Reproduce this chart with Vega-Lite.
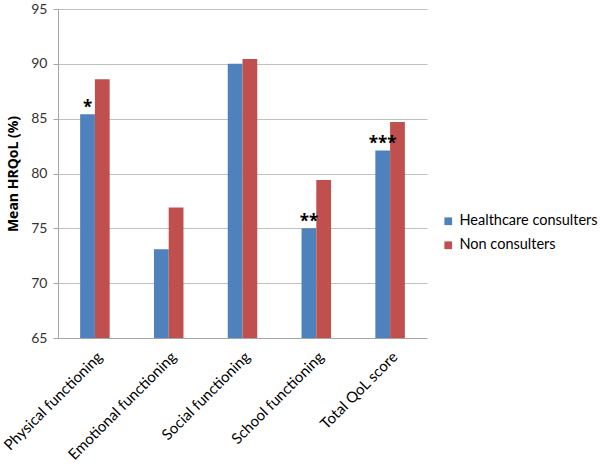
{
  "$schema": "https://vega.github.io/schema/vega-lite/v6.json",
  "autosize": {"type": "none"},
  "padding": {"left": 58, "top": 9, "right": 173, "bottom": 130},
  "width": 369,
  "height": 329,
  "background": "white",
  "config": {
    "view": {"stroke": null},
    "font": "Lato"
  },
  "data": {
    "values": [
      {"domain": "Physical functioning", "group": "Healthcare consulters", "value": 85.4, "sig": "*"},
      {"domain": "Physical functioning", "group": "Non consulters", "value": 88.6, "sig": ""},
      {"domain": "Emotional functioning", "group": "Healthcare consulters", "value": 73.1, "sig": ""},
      {"domain": "Emotional functioning", "group": "Non consulters", "value": 76.9, "sig": ""},
      {"domain": "Social functioning", "group": "Healthcare consulters", "value": 90.0, "sig": ""},
      {"domain": "Social functioning", "group": "Non consulters", "value": 90.45, "sig": ""},
      {"domain": "School functioning", "group": "Healthcare consulters", "value": 75.0, "sig": "**"},
      {"domain": "School functioning", "group": "Non consulters", "value": 79.4, "sig": ""},
      {"domain": "Total QoL score", "group": "Healthcare consulters", "value": 82.1, "sig": "***"},
      {"domain": "Total QoL score", "group": "Non consulters", "value": 84.7, "sig": ""}
    ]
  },
  "encoding": {
    "x": {
      "field": "domain",
      "type": "nominal",
      "sort": null,
      "scale": {"paddingInner": 0.6, "paddingOuter": 0.3},
      "axis": {
        "title": null,
        "labelAngle": -45,
        "labelFontSize": 15,
        "labelColor": "#000000",
        "ticks": false,
        "domainColor": "#a6a6a6",
        "labelPadding": 11,
        "labelLimit": 300
      }
    },
    "xOffset": {"field": "group", "type": "nominal", "sort": ["Healthcare consulters", "Non consulters"], "scale": {"paddingInner": 0, "paddingOuter": 0}},
    "y": {
      "field": "value",
      "type": "quantitative",
      "scale": {"domain": [65, 95], "zero": false, "nice": false},
      "axis": {
        "title": "Mean HRQoL (%)",
        "titleFont": "Open Sans",
        "titleFontSize": 14,
        "titleFontWeight": "bold",
        "titleColor": "#000000",
        "titlePadding": 10,
        "values": [65, 70, 75, 80, 85, 90, 95],
        "labelFontSize": 14,
        "labelColor": "#333333",
        "tickColor": "#a6a6a6",
        "tickSize": 5,
        "domainColor": "#a6a6a6",
        "gridColor": "#c0c0c0",
        "gridWidth": 1.2,
        "labelPadding": 6
      }
    }
  },
  "layer": [
    {
      "mark": {"type": "bar", "opacity": 1, "clip": true},
      "encoding": {
        "color": {
          "field": "group",
          "type": "nominal",
          "sort": ["Healthcare consulters", "Non consulters"],
          "scale": {"range": ["#4F81BD", "#C0504D"]},
          "legend": {
            "title": null,
            "orient": "none",
            "legendX": 383,
            "legendY": 205,
            "padding": 0,
            "symbolType": "square",
            "symbolSize": 60,
            "symbolStrokeWidth": 0,
            "labelFontSize": 14.5,
            "labelColor": "#000000",
            "rowPadding": 9,
            "labelOffset": 4,
            "labelLimit": 300
          }
        }
      }
    },
    {
      "mark": {"type": "text", "dy": -6, "font": "Open Sans", "fontSize": 17, "fontWeight": "bold", "color": "#000000", "baseline": "middle"},
      "encoding": {
        "text": {"field": "sig"}
      }
    }
  ]
}
